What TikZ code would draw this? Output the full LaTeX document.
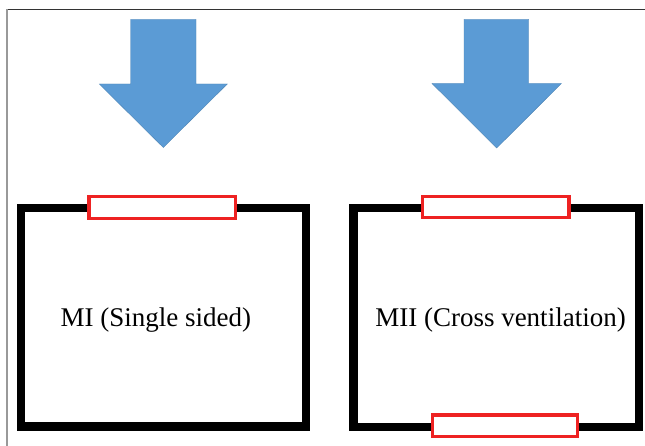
\documentclass[tikz,border=0pt]{standalone}
\usepackage{fontspec}
\setmainfont{Liberation Serif}
\begin{document}
\begin{tikzpicture}[x=1pt,y=-1pt,
  wall/.style={draw=black,line width=8.3pt,line join=miter},
  window/.style={draw=winred,fill=white,line width=3.4pt},
  flow/.style={fill=arrowblue,draw=arrowblue!85!black,line width=0.4pt},
  lbl/.style={font=\fontsize{27}{32}\selectfont,anchor=base,inner sep=0pt}]
\definecolor{arrowblue}{HTML}{5B9BD5}
\definecolor{winred}{HTML}{EE2222}
\useasboundingbox[fill=white] (0,0) rectangle (645,446);
% frame
\draw[draw=black!80,line width=1.2pt] (6.7,9.3) -- (645,9.3);
\draw[draw=black!40,line width=1.6pt] (6.7,9.3) -- (6.7,446);
% arrows
\path[flow] (130.7,19.3) -- (196,19.3) -- (196,84) -- (227.3,84) -- (163.3,147.5) -- (99.3,84) -- (130.7,84) -- cycle;
\path[flow] (464,19.3) -- (528.7,19.3) -- (528.7,83.5) -- (561.3,83.5) -- (496.7,148) -- (432,83.5) -- (464,83.5) -- cycle;
% rooms
\node[wall,rectangle,minimum width=285pt,minimum height=218.4pt,inner sep=0pt] (r1) at (163.3,317.3) {};
\node[wall,rectangle,minimum width=285.3pt,minimum height=218.6pt,inner sep=0pt] (r2) at (496.2,317.4) {};
% windows
\node[window,rectangle,minimum width=146.6pt,minimum height=21.6pt,inner sep=0pt] (w1) at (162.3,207.5) {};
\node[window,rectangle,minimum width=146.6pt,minimum height=21pt,inner sep=0pt] (w2) at (495.7,207.2) {};
\node[window,rectangle,minimum width=145.2pt,minimum height=21.6pt,inner sep=0pt] (w3) at (505,425.8) {};
% labels
\node[lbl] (t1) at (155.9,326.7) {MI (Single sided)};
\node[lbl] (t2) at (500.5,326.7) {MII (Cross ventilation)};
\end{tikzpicture}
\end{document}
